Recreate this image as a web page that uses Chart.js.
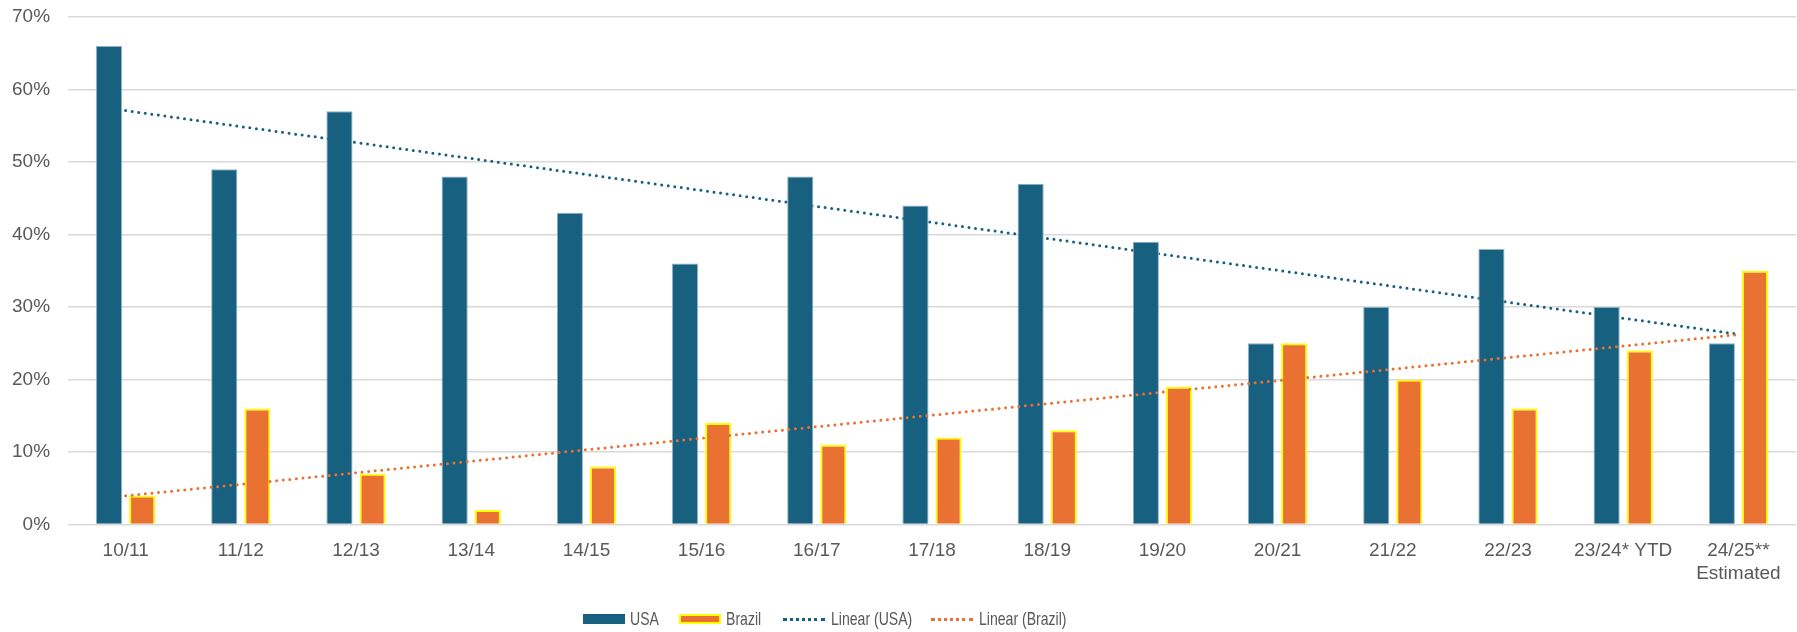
<!DOCTYPE html>
<html>
<head>
<meta charset="utf-8">
<script src="https://cdn.jsdelivr.net/npm/chart.js@4/dist/chart.umd.min.js"></script>
<style>
  html, body { margin: 0; padding: 0; background: #fff; }
  #wrap { position: relative; width: 1797px; height: 632px; }
  canvas { display: block; }
  #leyenda { position: absolute; top: 608px; left: 0; width: 1797px; height: 22px;
    font-family: "Liberation Sans", Arial, sans-serif; font-size: 18.5px; color: #595959; }
  #leyenda .item { position: absolute; top: 0; height: 22px; display: flex; align-items: center; white-space: nowrap; }
  #leyenda .sw { width: 42px; height: 10px; margin-right: 5px; box-sizing: border-box; flex: none; }
  #leyenda .dots { width: 42px; height: 0; margin-right: 6px; border-top: 3px dotted; flex: none; }
  #leyenda .txt { display: inline-block; transform: scaleX(0.76); transform-origin: left center; }
</style>
</head>
<body>
<div id="wrap">
  <canvas id="grafica" width="1797" height="632"></canvas>
  <div id="leyenda">
    <div class="item" style="left:583px"><span class="sw" style="background:#17607f"></span><span class="txt">USA</span></div>
    <div class="item" style="left:679px"><span class="sw" style="background:#e97132;border:2px solid #ffff00"></span><span class="txt">Brazil</span></div>
    <div class="item" style="left:783px"><span class="dots" style="border-color:#17607f"></span><span class="txt">Linear (USA)</span></div>
    <div class="item" style="left:931px"><span class="dots" style="border-color:#e97132"></span><span class="txt">Linear (Brazil)</span></div>
  </div>
</div>
<script>
const categorias = ['10/11', '11/12', '12/13', '13/14', '14/15', '15/16', '16/17', '17/18', '18/19',
  '19/20', '20/21', '21/22', '22/23', '23/24* YTD', ['24/25**', 'Estimated']];
const usa = [66, 49, 57, 48, 43, 36, 48, 44, 47, 39, 25, 30, 38, 30, 25];
const brasil = [4, 16, 7, 2, 8, 14, 11, 12, 13, 19, 25, 20, 16, 24, 35];
const ticksY = [0, 10, 20, 30, 40, 50, 60, 70];

// Tendencia lineal (minimos cuadrados), como la de Excel
function tendencia(valores) {
  const n = valores.length;
  let sx = 0, sy = 0, sxy = 0, sxx = 0;
  valores.forEach((v, i) => { sx += i; sy += v; sxy += i * v; sxx += i * i; });
  const m = (n * sxy - sx * sy) / (n * sxx - sx * sx);
  const b = (sy - m * sx) / n;
  return valores.map((v, i) => b + m * i);
}

const gris = '#595959';
const fuente = { family: "'Liberation Sans', Arial, sans-serif", size: 19, lineHeight: 1.2 };

new Chart(document.getElementById('grafica'), {
  type: 'bar',
  data: {
    labels: categorias,
    datasets: [
      {
        label: 'USA', data: usa, backgroundColor: '#17607f', borderColor: '#8fb1c3', borderWidth: 1,
        borderSkipped: 'start', categoryPercentage: 0.575, barPercentage: 0.79, order: 1
      },
      {
        label: 'Brazil', data: brasil, backgroundColor: '#e97132', borderColor: '#ffff00', borderWidth: 2,
        borderSkipped: 'start', categoryPercentage: 0.575, barPercentage: 0.79, order: 2
      },
      {
        type: 'line', label: 'Linear (USA)', data: tendencia(usa), borderColor: '#17607f',
        borderWidth: 3, borderDash: [0, 6.6], borderCapStyle: 'round', pointRadius: 0, fill: false, order: 3
      },
      {
        type: 'line', label: 'Linear (Brazil)', data: tendencia(brasil), borderColor: '#e97132',
        borderWidth: 3, borderDash: [0, 6.6], borderCapStyle: 'round', pointRadius: 0, fill: false, order: 0
      }
    ]
  },
  options: {
    responsive: false,
    animation: false,
    layout: { padding: { left: -6, right: 1, top: 17, bottom: 40 } },
    plugins: { legend: { display: false }, tooltip: { enabled: false } },
    scales: {
      x: {
        grid: { display: false },
        border: { display: false },
        ticks: { color: gris, font: fuente, padding: 7, maxRotation: 0, autoSkip: false }
      },
      y: {
        min: 0, max: 70,
        afterBuildTicks: axis => { axis.ticks = ticksY.map(v => ({ value: v })); },
        afterFit: axis => { axis.paddingTop = 0; },
        grid: { color: '#d9d9d9', lineWidth: 1.5, drawTicks: false },
        border: { display: false },
        ticks: { color: gris, font: fuente, padding: 18, callback: v => v + '%' }
      }
    }
  }
});
</script>
</body>
</html>
